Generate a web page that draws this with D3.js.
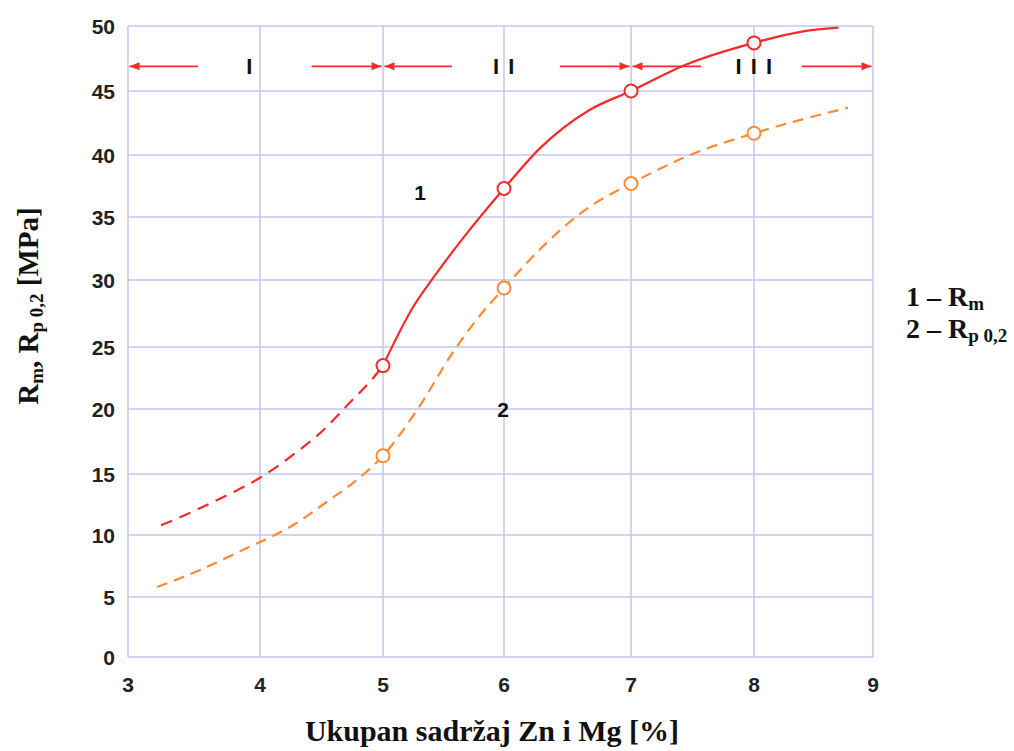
<!DOCTYPE html>
<html lang="sr">
<head>
<meta charset="UTF-8">
<title>Rm, Rp0,2 - Zn i Mg</title>
<script src="https://d3js.org/d3.v7.min.js"></script>
<style>
    body { margin: 0; background: #fff; overflow: hidden; }
    .tick-label { font-family: "Liberation Sans", Arial, sans-serif; font-weight: bold; font-size: 21px; fill: #222; }
    .serif { font-family: "Liberation Serif", "Times New Roman", serif; font-weight: bold; fill: #111; }
    .grid line { stroke: #c4c4ee; stroke-width: 1.5; }
</style>
</head>
<body>
<script>
    // x ticks / y ticks
    const xTicks = [3, 4, 5, 6, 7, 8, 9];
    const yTicks = [0, 5, 10, 15, 20, 25, 30, 35, 40, 45, 50];

    // krivulja 1 (Rm): isprekidani dio pa puni dio
    const rmDashX = [3.25, 3.34, 3.70, 4.01, 4.30, 4.54, 4.70, 4.92, 5.0];
    const rmDashY = [10.8, 11.2, 13.0, 14.75, 16.7, 18.6, 20.2, 22.5, 23.5];
    const rmX = [5.0, 5.25, 5.44, 5.66, 6.0, 6.28, 6.67, 7.0, 7.44, 8.0, 8.39, 8.71];
    const rmY = [23.5, 28.0, 30.5, 33.3, 37.3, 40.5, 43.5, 45.0, 47.0, 48.7, 49.55, 49.87];

    // krivulja 2 (Rp 0,2)
    const rpX = [3.22, 3.55, 3.85, 4.30, 4.54, 4.76, 5.0, 5.28, 5.58, 5.77, 6.0, 6.28, 6.67, 7.0, 7.48, 8.0, 8.79];
    const rpY = [5.8, 7.2, 8.7, 11.0, 12.7, 14.3, 16.4, 19.9, 24.6, 27.0, 29.4, 32.4, 35.8, 37.7, 40.0, 41.7, 43.7];

    // oznaceni mjerni podaci (kruzici)
    const markX = [5, 6, 7, 8];
    const markRm = [23.5, 37.3, 45.0, 48.7];
    const markRp = [16.4, 29.4, 37.7, 41.7];

    // podrucja I, II, III
    const regionLabels = ["I", "I I", "I I I"];
    const regionFrom = [3, 5, 7];
    const regionTo = [5, 7, 9];
    const regionLabelX = [3.92, 6.0, 8.0];
    const arrowLeftEnd = [3.53, 5.57, 7.57];
    const arrowRightStart = [4.42, 6.44, 8.4];
    const regionLevel = 46.9;

    const width = 1014, height = 751;
    const red = "#f52a2a", orange = "#ff8a33";

    const svg = d3.select("body").append("svg")
        .attr("width", width)
        .attr("height", height);

    // the printed grid is slightly uneven, so the scales follow it tick by tick
    const x = d3.scaleLinear().domain(xTicks).range([128, 260, 383, 504, 631, 754, 873]);
    const y = d3.scaleLinear().domain(yTicks).range([657, 597, 535, 474, 409, 347, 280, 217, 155, 91, 26]);

    // mreza
    const grid = svg.append("g").attr("class", "grid");
    grid.selectAll(".gx").data(xTicks).enter().append("line")
        .attr("x1", d => x(d)).attr("x2", d => x(d))
        .attr("y1", y(0)).attr("y2", y(50));
    grid.selectAll(".gy").data(yTicks).enter().append("line")
        .attr("x1", x(3)).attr("x2", x(9))
        .attr("y1", d => y(d)).attr("y2", d => y(d));

    // oznake osi
    svg.selectAll(".xt").data(xTicks).enter().append("text")
        .attr("class", "tick-label")
        .attr("x", d => x(d)).attr("y", 692)
        .attr("text-anchor", "middle")
        .text(d => d);
    svg.selectAll(".yt").data(yTicks).enter().append("text")
        .attr("class", "tick-label")
        .attr("x", 115).attr("y", d => y(d) + 7.5)
        .attr("text-anchor", "end")
        .text(d => d);

    // strelice za podrucja
    const arrows = svg.append("g");
    function arrowHead(xTip, dir) {
        const yy = y(regionLevel);
        arrows.append("path")
            .attr("d", `M${xTip},${yy} L${xTip - dir * 10},${yy - 4} L${xTip - dir * 10},${yy + 4} Z`)
            .attr("fill", red);
    }
    regionLabels.forEach((lab, i) => {
        const x0 = x(regionFrom[i]) + 1.5, x1 = x(regionTo[i]) - 1.5;
        arrows.append("line")
            .attr("x1", x0).attr("x2", x(arrowLeftEnd[i]))
            .attr("y1", y(regionLevel)).attr("y2", y(regionLevel))
            .attr("stroke", red).attr("stroke-width", 1.8);
        arrows.append("line")
            .attr("x1", x(arrowRightStart[i])).attr("x2", x1)
            .attr("y1", y(regionLevel)).attr("y2", y(regionLevel))
            .attr("stroke", red).attr("stroke-width", 1.8);
        arrowHead(x0, -1);
        arrowHead(x1, 1);
        arrows.append("text")
            .attr("class", "tick-label")
            .attr("x", x(regionLabelX[i]) + 0.5)
            .attr("y", y(regionLevel) + 8)
            .attr("text-anchor", "middle")
            .style("font-size", "22px")
            .style("letter-spacing", "1.5px")
            .style("fill", "#111")
            .text(lab);
    });

    // krivulje
    const line = d3.line()
        .x(d => x(d[0]))
        .y(d => y(d[1]))
        .curve(d3.curveMonotoneX);

    svg.append("path")
        .datum(d3.zip(rmDashX, rmDashY))
        .attr("d", line)
        .attr("fill", "none").attr("stroke", red)
        .attr("stroke-width", 2.2).attr("stroke-dasharray", "12,8");
    svg.append("path")
        .datum(d3.zip(rmX, rmY))
        .attr("d", line)
        .attr("fill", "none").attr("stroke", red)
        .attr("stroke-width", 2.2);
    svg.append("path")
        .datum(d3.zip(rpX, rpY))
        .attr("d", line)
        .attr("fill", "none").attr("stroke", orange)
        .attr("stroke-width", 2.2).attr("stroke-dasharray", "11,7");

    // kruzici
    svg.selectAll(".mrm").data(d3.zip(markX, markRm)).enter().append("circle")
        .attr("cx", d => x(d[0])).attr("cy", d => y(d[1])).attr("r", 6.5)
        .attr("fill", "#fff").attr("stroke", red).attr("stroke-width", 2);
    svg.selectAll(".mrp").data(d3.zip(markX, markRp)).enter().append("circle")
        .attr("cx", d => x(d[0])).attr("cy", d => y(d[1])).attr("r", 6.5)
        .attr("fill", "#fff").attr("stroke", orange).attr("stroke-width", 2);

    // oznake krivulja
    svg.append("text").attr("class", "tick-label")
        .attr("x", 420).attr("y", 200).attr("text-anchor", "middle")
        .style("font-size", "21px").style("fill", "#111").text("1");
    svg.append("text").attr("class", "tick-label")
        .attr("x", 503).attr("y", 417).attr("text-anchor", "middle")
        .style("font-size", "21px").style("fill", "#111").text("2");

    // naziv x osi
    svg.append("text").attr("class", "serif")
        .attr("x", 492).attr("y", 741)
        .attr("text-anchor", "middle")
        .style("font-size", "30px")
        .text("Ukupan sadržaj Zn i Mg [%]");

    // naziv y osi
    const yt = svg.append("text").attr("class", "serif")
        .attr("transform", "translate(38,306) rotate(-90)")
        .attr("text-anchor", "middle")
        .style("font-size", "29px");
    yt.append("tspan").text("R");
    yt.append("tspan").attr("dy", 5).style("font-size", "19px").text("m");
    yt.append("tspan").attr("dy", -5).text(", R");
    yt.append("tspan").attr("dy", 5).style("font-size", "19px").text("p 0,2");
    yt.append("tspan").attr("dy", -5).text(" [MPa]");

    // legenda
    const legend = svg.append("g");
    const l1 = legend.append("text").attr("class", "serif")
        .attr("x", 906).attr("y", 306).style("font-size", "28px");
    l1.append("tspan").text("1 – R");
    l1.append("tspan").attr("dy", 4).style("font-size", "19px").text("m");
    const l2 = legend.append("text").attr("class", "serif")
        .attr("x", 906).attr("y", 338).style("font-size", "28px");
    l2.append("tspan").text("2 – R");
    l2.append("tspan").attr("dy", 4).style("font-size", "19px").text("p 0,2");
</script>
</body>
</html>
